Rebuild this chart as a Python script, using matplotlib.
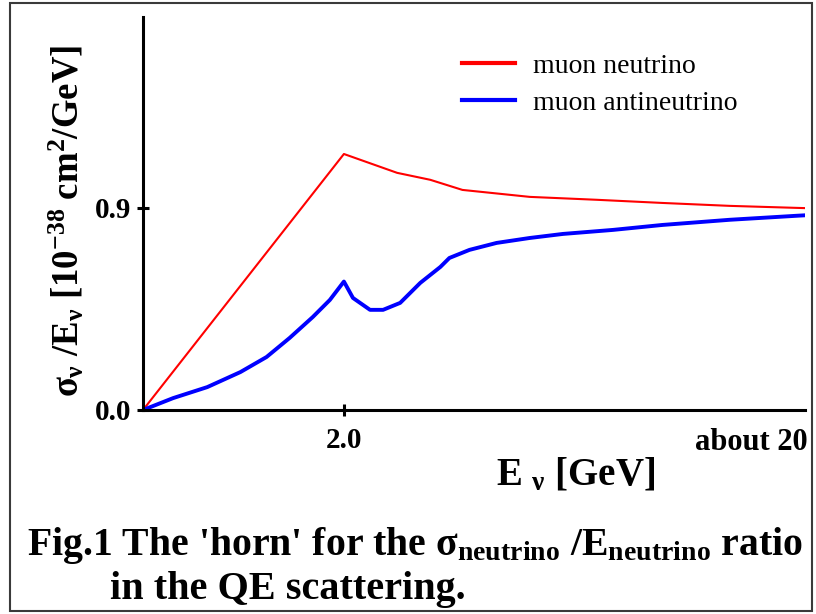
import matplotlib
matplotlib.use("Agg")
import matplotlib.pyplot as plt
from matplotlib.patches import Rectangle

# x is in the drawing's own units: 2.0 GeV sits at 2, the right end is "about 20"
nu_x = [0.0, 2.0, 2.53, 2.86, 3.18, 3.85, 4.52, 5.17, 5.84, 6.51, 6.59]
nu_y = [0.0, 1.14, 1.056, 1.025, 0.980, 0.949, 0.936, 0.922, 0.909, 0.900, 0.899]

anti_x = [0.0, 0.30, 0.64, 0.97, 1.23, 1.46, 1.69, 1.86, 2.0, 2.09, 2.26, 2.39,
          2.56, 2.76, 2.96, 3.05, 3.25, 3.52, 3.85, 4.18, 4.68, 5.17, 5.84, 6.51, 6.59]
anti_y = [0.0, 0.053, 0.102, 0.169, 0.236, 0.321, 0.414, 0.490, 0.572, 0.499, 0.446, 0.446,
          0.477, 0.566, 0.637, 0.677, 0.713, 0.744, 0.766, 0.784, 0.802, 0.824, 0.847, 0.865, 0.867]

x_ticks = [2.0]
x_tick_labels = ["2.0"]
y_ticks = [0.0, 0.9]
y_tick_labels = ["0.0", "0.9"]

plt.rcParams["font.family"] = ["Liberation Serif", "DejaVu Serif"]
plt.rcParams["mathtext.fontset"] = "custom"
plt.rcParams["mathtext.rm"] = "Liberation Serif:bold"
plt.rcParams["mathtext.it"] = "Liberation Serif:bold"
plt.rcParams["mathtext.bf"] = "Liberation Serif:bold"

fig = plt.figure(figsize=(8.16, 6.14), dpi=100)
fig.patches.append(Rectangle((10 / 816, 1 - 611 / 614), 802 / 816, 608 / 614,
                             transform=fig.transFigure, fill=False,
                             edgecolor="#3a3a3a", linewidth=1.5))

ax = fig.add_axes([143 / 816, 1 - 410 / 614, 662 / 816, 393 / 614])
ax.plot(nu_x, nu_y, color="#ff0000", lw=1.5, label="muon neutrino")
ax.plot(anti_x, anti_y, color="#0000ff", lw=2.8, label="muon antineutrino")

ax.set_xlim(0, 6.59)
ax.set_ylim(0, 1.75)
for side in ("top", "right"):
    ax.spines[side].set_visible(False)
for side in ("left", "bottom"):
    ax.spines[side].set_linewidth(2.2)

ax.set_xticks(x_ticks, x_tick_labels, fontsize=21, fontweight="bold")
ax.set_yticks(y_ticks, y_tick_labels, fontsize=21, fontweight="bold")
ax.tick_params(axis="both", direction="inout", length=9, width=2.2)
ax.tick_params(axis="x", pad=8)
ax.tick_params(axis="y", pad=4)

ax.text(1.004, -0.045, "about 20", transform=ax.transAxes, ha="right", va="top",
        fontsize=22, fontweight="bold")

ax.set_xlabel(r"E $_{\nu}$ [GeV]", fontsize=28, fontweight="bold", labelpad=2, x=0.653)
ax.set_ylabel(r"$\sigma_{\nu}$ /E$_{\nu}$ [10$^{-38}$ cm$^{2}$/GeV]", fontsize=26.5,
              fontweight="bold", labelpad=6, y=0.48)

leg = ax.legend(loc="upper left", bbox_to_anchor=(0.482, 0.908), frameon=False,
                fontsize=20, handlelength=1.9, handletextpad=0.65, labelspacing=0.42,
                borderpad=0, borderaxespad=0)
for h in leg.legend_handles:
    h.set_linewidth(3)

fig.text(27 / 816, 1 - 555 / 614,
         r"Fig.1 The 'horn' for the $\sigma_{\mathrm{neutrino}}$ /E$_{\mathrm{neutrino}}$ ratio",
         fontsize=28.6, fontweight="bold", va="baseline", ha="left")
fig.text(110 / 816, 1 - 599 / 614, "in the QE scattering.",
         fontsize=29, fontweight="bold", va="baseline", ha="left")

fig.savefig("out.png", dpi=100)
